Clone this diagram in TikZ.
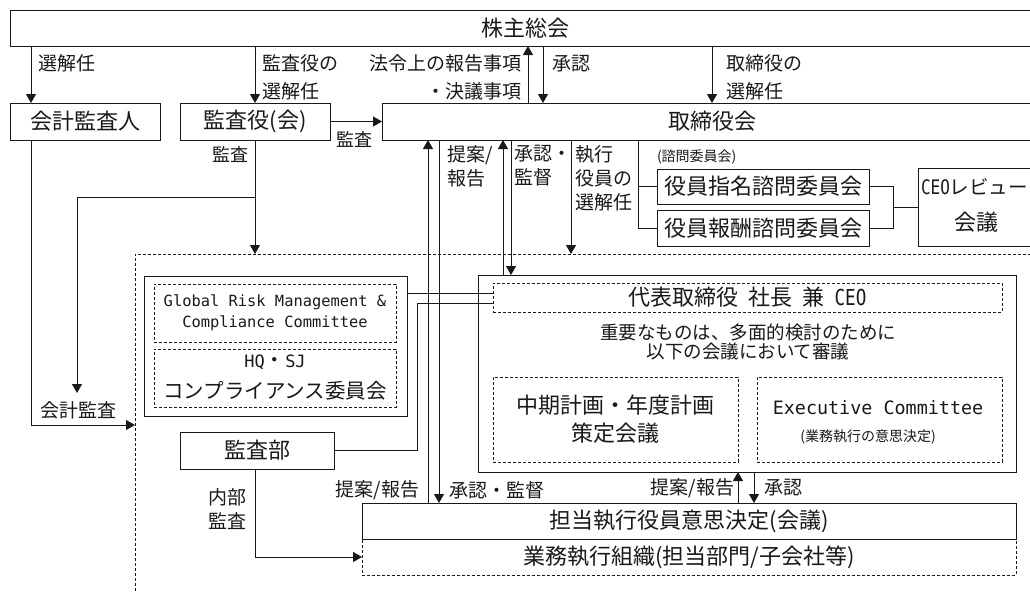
\documentclass[tikz,border=0pt]{standalone}
\usepackage{fontspec}
\setmainfont{Noto Sans CJK JP}
\newfontfamily\monof{DejaVu Sans Mono}
\newfontfamily\monon[FakeStretch=0.8]{DejaVu Sans Mono}
\usetikzlibrary{arrows.meta}
\definecolor{lc}{RGB}{25,25,25}
\newcommand\fsT{\fontsize{22}{28}\selectfont}
\newcommand\fsL{\fontsize{19}{24}\selectfont}
\newcommand\fsS{\fontsize{14}{17}\selectfont}
\begin{document}
\begin{tikzpicture}[x=1pt,y=-1pt,line width=1pt,
  every node/.style={inner sep=0pt,outer sep=0pt,text=lc},
  sbox/.style={draw=lc,font=\fsT,align=center},
  dbox/.style={draw=lc,dash pattern=on 3pt off 2pt,font=\fsT,align=center},
  lab/.style={font=\fsL,align=left},
  arr/.style={draw=lc,-{Triangle[width=10pt,length=9pt]}},
  ln/.style={draw=lc}]
\useasboundingbox (0,0) rectangle (1030,592);
\clip (0,0) rectangle (1030,592);
\fill[white] (0,0) rectangle (1030,592);

% helper coordinates
\coordinate (xA) at (31,0);
\coordinate (xB) at (528,0);
\coordinate (xC) at (543,0);
\coordinate (xD) at (428,0);
\coordinate (xE) at (439,0);
\coordinate (xF) at (503,0);
\coordinate (xG) at (511,0);
\coordinate (xH) at (571,0);
\coordinate (xI) at (638,0);
\coordinate (xJ) at (893,0);
\coordinate (xK) at (738,0);
\coordinate (xL) at (754,0);
\coordinate (xN) at (417,0);
\coordinate (xP) at (255,0);
\coordinate (yS) at (0,197);
\coordinate (yT) at (0,425);
\coordinate (yU) at (0,293);
\coordinate (yV) at (0,303);
\coordinate (kaE) at (77,393);

% region
\node[dbox,minimum width=910pt,minimum height=346pt,anchor=north west] (reg) at (135,254) {};

% boxes
\node[sbox,minimum width=1030pt,minimum height=36pt] (sh) at (525,28) {株主総会};
\node[sbox,minimum width=150pt,minimum height=37pt] (kaikei) at (85,121.5) {会計監査人};
\node[sbox,minimum width=150pt,minimum height=37pt] (kansayaku) at (255,121.5) {監査役(会)};
\node[sbox,minimum width=660pt,minimum height=37pt] (tori) at (712,121.5) {取締役会};
\node[sbox,minimum width=212pt,minimum height=35pt] (shimei) at (763,186.5) {役員指名諮問委員会};
\node[sbox,minimum width=212pt,minimum height=36pt] (hoshu) at (763,228) {役員報酬諮問委員会};
\node[sbox,minimum width=116pt,minimum height=78pt] (ceor) at (976,207) {};
\node[anchor=west,font=\fontsize{19.5}{24}\selectfont] (ceor1) at (921,187) {{\monon\fontsize{20}{24}\selectfont CEO}レビュー};
\node[font=\fsT] (ceor2) at (976,222) {会議};

\node[sbox,minimum width=263pt,minimum height=140pt] (gout) at (275.5,346) {};
\node[dbox,minimum width=242pt,minimum height=58pt,font={\monof\fontsize{15.4}{21}\selectfont}] (grm) at (275,313) {Global Risk Management \&\\Compliance Committee};
\node[dbox,minimum width=242pt,minimum height=58pt,font=\fontsize{20.5}{31}\selectfont] (hq) at (275,378) {{\monof\fontsize{17}{31}\selectfont HQ}・{\monof\fontsize{17}{31}\selectfont SJ}\\コンプライアンス委員会};
\node[sbox,minimum width=154pt,minimum height=37pt] (kansabu) at (257,450.5) {監査部};

\node[sbox,minimum width=538pt,minimum height=197pt] (ceo) at (747,373.5) {};
\node[dbox,minimum width=509pt,minimum height=29pt] (ceod) at (747.5,297.5) {代表取締役\hspace{10pt}社長\hspace{10pt}兼\hspace{10pt}{\monon\fontsize{22}{24}\selectfont CEO}};
\node[font=\fontsize{18.5}{20}\selectfont,align=center] (imp) at (748,342) {重要なものは、多面的検討のために\\以下の会議において審議};
\node[dbox,minimum width=245pt,minimum height=85pt] (plan) at (615.5,419.5) {中期計画・年度計画\\策定会議};
\node[dbox,minimum width=245pt,minimum height=85pt] (exec) at (879.5,419.5) {};
\node[font={\monof\fontsize{18.4}{22}\selectfont}] (exect) at (878,408) {Executive Committee};
\node[font=\fsS] (execs) at (868,437) {(業務執行の意思決定)};

\node[dbox,minimum width=654pt,minimum height=36pt] (gyomu) at (689,557) {業務執行組織(担当部門/子会社等)};
\node[sbox,minimum width=654pt,minimum height=36pt] (tanto) at (689,521) {担当執行役員意思決定(会議)};

% connectors
\draw[arr] (sh.south -| xA) -- (kaikei.north -| xA);
\draw[arr] (sh.south -| kansayaku) -- (kansayaku.north);
\draw[arr] (tori.north -| xB) -- (sh.south -| xB);
\draw[arr] (sh.south -| xC) -- (tori.north -| xC);
\draw[arr] (sh.south -| tori) -- (tori.north);
\draw[arr] (kansayaku.east) -- (tori.west);
\draw[arr] (kansayaku.south) -- (reg.north -| kansayaku);
\draw[arr] (kansayaku.south |- yS) -| (kaE);
\draw[arr] (kaikei.south -| xA) |- (reg.west |- yT);
\draw[ln] (gout.east |- yU) -- (ceod.west |- yU);
\draw[ln] (kansabu.east) -| (xN |- yV) -- (ceod.west |- yV);
\draw[arr] (tanto.north -| xD) -- (tori.south -| xD);
\draw[arr] (tori.south -| xE) -- (tanto.north -| xE);
\draw[arr] (ceo.north -| xF) -- (tori.south -| xF);
\draw[arr] (tori.south -| xG) -- (ceo.north -| xG);
\draw[arr] (tori.south -| xH) -- (reg.north -| xH);
\draw[ln] (tori.south -| xI) |- (hoshu.west);
\draw[ln] (xI |- shimei.west) -- (shimei.west);
\draw[ln] (shimei.east) -| (xJ |- hoshu.east) -- (hoshu.east);
\draw[ln] (xJ |- ceor.west) -- (ceor.west);
\draw[arr] (tanto.north -| xK) -- (ceo.south -| xK);
\draw[arr] (ceo.south -| xL) -- (tanto.north -| xL);
\draw[arr] (kansabu.south -| xP) |- (gyomu.west);

% labels
\node[lab,anchor=west] (l1) at (38,63.5) {選解任};
\node[lab,anchor=west,font=\fontsize{19}{28}\selectfont] (l2) at (262,77.5) {監査役の\\選解任};
\node[lab,anchor=east,align=right,font=\fontsize{19}{28}\selectfont] (l3) at (521,77.5) {法令上の報告事項\\・決議事項};
\node[lab,anchor=west] (l4) at (552,63.5) {承認};
\node[lab,anchor=west,font=\fontsize{19}{28}\selectfont] (l5) at (726,77.5) {取締役の\\選解任};
\node[lab,anchor=west,font=\fontsize{18}{22}\selectfont] (l6) at (336,139) {監査};
\node[lab,anchor=east,font=\fontsize{18}{22}\selectfont] (l7) at (248,154) {監査};
\node[lab,anchor=west] (l8) at (447,166) {提案/\\報告};
\node[lab,anchor=west] (l9) at (514,166) {承認・\\監督};
\node[lab,anchor=west] (l10) at (575,178) {執行\\役員の\\選解任};
\node[font=\fsS,anchor=west] (l11) at (657,157) {(諮問委員会)};
\node[lab,anchor=west] (l12) at (40,410) {会計監査};
\node[lab,anchor=west] (l13) at (208,509) {内部\\監査};
\node[lab,anchor=east] (l14) at (419,490) {提案/報告};
\node[lab,anchor=west] (l15) at (449,490) {承認・監督};
\node[lab,anchor=east] (l16) at (734,488) {提案/報告};
\node[lab,anchor=west] (l17) at (764,488) {承認};
\end{tikzpicture}
\end{document}
